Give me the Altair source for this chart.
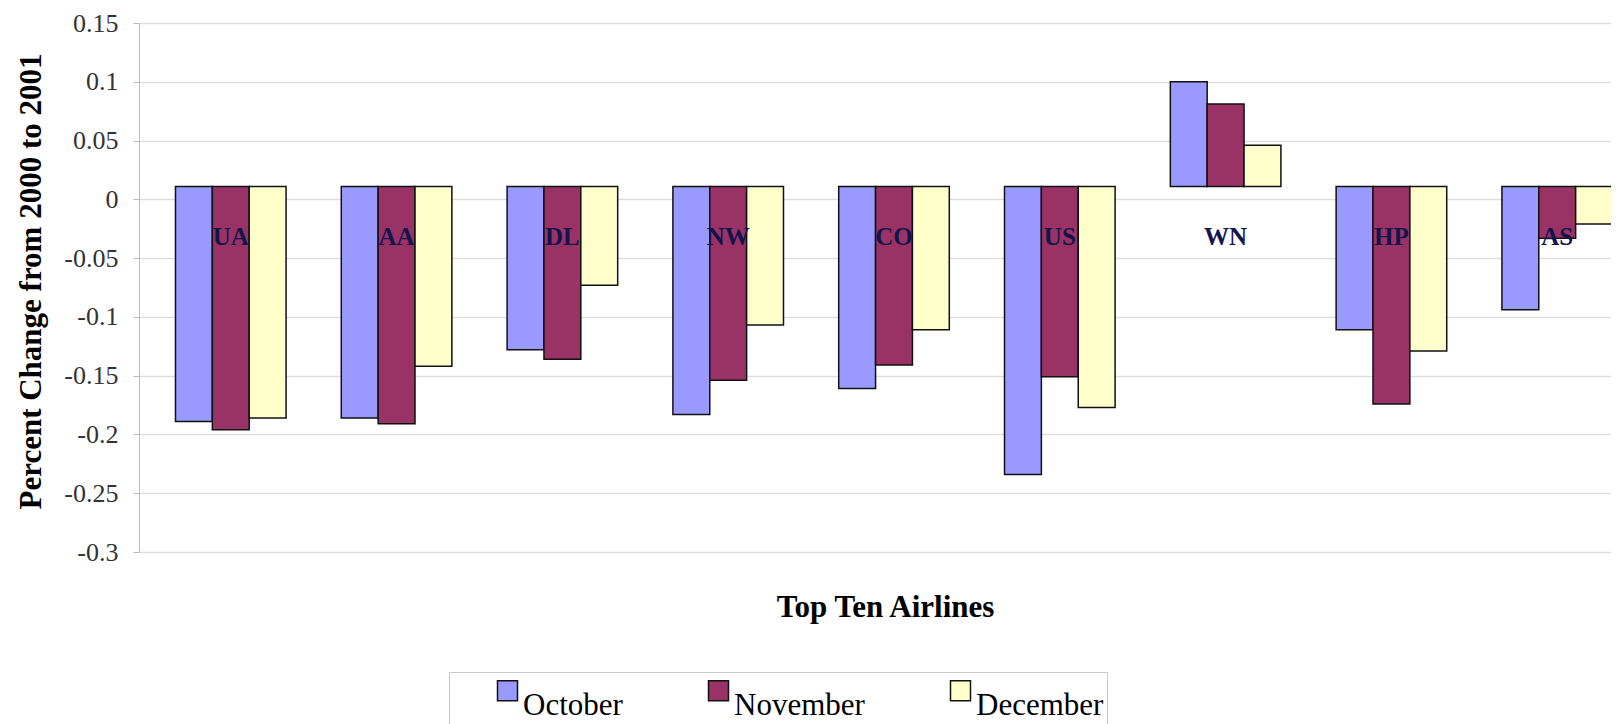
import altair as alt
import pandas as pd

airlines = ["UA", "AA", "DL", "NW", "CO", "US", "WN", "HP", "AS"]
months = ["October", "November", "December"]
october = [-0.189, -0.186, -0.128, -0.183, -0.161, -0.234, 0.100, -0.111, -0.094]
november = [-0.196, -0.191, -0.136, -0.154, -0.141, -0.151, 0.081, -0.174, -0.033]
december = [-0.186, -0.142, -0.073, -0.107, -0.111, -0.177, 0.046, -0.129, -0.021]
baseline = 0.011
colors = ["#9999FF", "#993366", "#FFFFCC"]
y_ticks = [-0.3, -0.25, -0.2, -0.15, -0.1, -0.05, 0, 0.05, 0.1, 0.15]

rows = []
for i, a in enumerate(airlines):
    for m, vals in zip(months, [october, november, december]):
        rows.append({"airline": a, "month": m, "value": vals[i], "base": baseline})
df = pd.DataFrame(rows)
labels_df = pd.DataFrame({"airline": airlines})

FONT = "Liberation Serif"

x_scale = alt.Scale(domain=airlines, range=[0, 1510], paddingInner=0.333, paddingOuter=0.22)

bars = alt.Chart(df).mark_bar(stroke="#111111", strokeWidth=1.5).encode(
    x=alt.X(
        "airline:N",
        scale=x_scale,
        axis=alt.Axis(
            title="Top Ten Airlines",
            labels=False,
            ticks=False,
            domain=False,
            titleFont=FONT,
            titleFontSize=31,
            titleFontWeight="bold",
            titleColor="black",
            titleX=746,
            titleY=64,
            titleBaseline="alphabetic",
            titleAlign="center",
        ),
    ),
    xOffset=alt.XOffset("month:N", sort=months, scale=alt.Scale(domain=months, paddingInner=0, paddingOuter=0)),
    y=alt.Y(
        "value:Q",
        scale=alt.Scale(domain=[-0.3, 0.15], nice=False, zero=False),
        axis=alt.Axis(
            values=y_ticks,
            labelExpr="'' + datum.value",
            title="Percent Change from 2000 to 2001",
            titleFont=FONT,
            titleFontSize=31,
            titleFontWeight="bold",
            titleColor="black",
            titleX=-108,
            titleY=258,
            titleAngle=270,
            titleBaseline="middle",
            titleAlign="center",
            labelFont=FONT,
            labelFontSize=26,
            labelColor="#333333",
            labelPadding=15,
            tickSize=6,
            tickColor="#bbbbbb",
            domainColor="#bbbbbb",
            gridColor="#dddddd",
            gridWidth=1.5,
        ),
    ),
    y2="base:Q",
    color=alt.Color(
        "month:N",
        sort=months,
        scale=alt.Scale(domain=months, range=colors),
        legend=alt.Legend(
            title=None,
            orient="none",
            legendX=310,
            legendY=649,
            direction="horizontal",
            symbolType="square",
            symbolSize=400,
            symbolStrokeColor="#111111",
            symbolStrokeWidth=1.5,
            symbolOffset=40,
            labelFont=FONT,
            labelFontSize=31,
            labelColor="black",
            labelBaseline="top",
            labelOffset=0,
            columnPadding=40,
            padding=3,
            strokeColor="#c8c8c8",
            fillColor="white",
        ),
    ),
)

text = alt.Chart(labels_df).mark_text(
    font=FONT, fontSize=25, fontWeight="bold", color="#14144d", baseline="middle"
).encode(
    x=alt.X("airline:N", scale=x_scale),
    y=alt.value(214),
    text="airline:N",
)

chart = alt.layer(bars, text).properties(
    width=1472,
    height=529,
    autosize=alt.AutoSizeParams(type="none"),
    padding={"left": 131, "top": 15, "right": 0, "bottom": 172},
    background="white",
).configure_view(stroke="transparent")

chart.save("out.html", embed_options={"renderer": "svg", "actions": False})
